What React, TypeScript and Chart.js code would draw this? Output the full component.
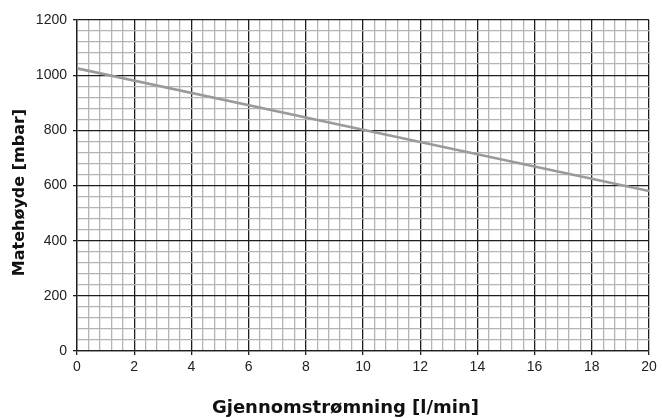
import React, { useEffect, useRef } from "react";
import { Chart, registerables } from "chart.js";
Chart.register(...registerables);

const flowValues = [0, 10, 20];
const pressureValues = [1025, 802, 580];
const xMajorLabels = [0, 2, 4, 6, 8, 10, 12, 14, 16, 18, 20];
const yMajorLabels = [0, 200, 400, 600, 800, 1000, 1200];
const xMinorStep = 0.4;
const yMinorStep = 40;
const xTitle = "Gjennomstrømning [l/min]";
const yTitle = "Matehøyde [mbar]";

const isMajor = (v: number, list: number[]) => list.some((m) => Math.abs(m - v) < 1e-6);

const titleFont = "'DejaVu Sans', sans-serif";

const axisTitles = {
  id: "axisTitles",
  afterDraw(chart: any) {
    const c = chart.ctx;
    c.save();
    c.fillStyle = "#111";
    c.textAlign = "center";
    c.textBaseline = "alphabetic";
    c.font = `bold 18px ${titleFont}`;
    c.fillText(xTitle, 345.5, 413);
    c.translate(24, 192.5);
    c.rotate(-Math.PI / 2);
    c.font = `bold 16px ${titleFont}`;
    c.fillText(yTitle, 0, 0);
    c.restore();
  },
};

export default function App() {
  const ref = useRef<HTMLCanvasElement>(null);
  useEffect(() => {
    document.body.style.margin = "0";
    const ctx = ref.current!.getContext("2d")!;
    const font = "'Liberation Sans', Arial, sans-serif";
    const chart = new Chart(ctx, {
      type: "scatter",
      data: {
        datasets: [
          {
            data: flowValues.map((x, i) => ({ x, y: pressureValues[i] })),
            showLine: true,
            borderColor: "#9a9a9a",
            borderWidth: 2.7,
            pointRadius: 0,
            fill: false,
          },
        ],
      },
      plugins: [axisTitles],
      options: {
        animation: false,
        responsive: false,
        layout: { padding: { left: 0, right: 13, top: 20, bottom: 0 } },
        plugins: { legend: { display: false }, tooltip: { enabled: false } },
        scales: {
          x: {
            type: "linear",
            min: 0,
            max: 20,
            afterBuildTicks: (s: any) => {
              const n = Math.round(20 / xMinorStep);
              s.ticks = Array.from({ length: n + 1 }, (_, i) => ({ value: Math.round(i * xMinorStep * 10) / 10 }));
            },
            afterFit: (s: any) => {
              s.height = 67;
            },
            ticks: {
              autoSkip: false,
              maxRotation: 0,
              padding: 4,
              color: "#222",
              font: { family: font, size: 14 },
              callback: (v: any) => (isMajor(Number(v), xMajorLabels) ? String(v) : ""),
            },
            grid: {
              color: (c: any) => (isMajor(c.tick.value, xMajorLabels) ? "#1e1e1e" : "#b4b4b4"),
              tickColor: (c: any) => (isMajor(c.tick.value, xMajorLabels) ? "#1e1e1e" : "rgba(0,0,0,0)"),
              lineWidth: 1.3,
              tickLength: 4,
            },
            border: { color: "#1e1e1e", width: 1.3 },
          },
          y: {
            type: "linear",
            min: 0,
            max: 1200,
            afterBuildTicks: (s: any) => {
              const n = Math.round(1200 / yMinorStep);
              s.ticks = Array.from({ length: n + 1 }, (_, i) => ({ value: i * yMinorStep }));
            },
            afterFit: (s: any) => {
              s.width = 77;
            },
            ticks: {
              autoSkip: false,
              padding: 6,
              color: "#222",
              font: { family: font, size: 14 },
              callback: (v: any) => (isMajor(Number(v), yMajorLabels) ? String(v) : ""),
            },
            grid: {
              color: (c: any) => (isMajor(c.tick.value, yMajorLabels) ? "#1e1e1e" : "#b4b4b4"),
              tickColor: (c: any) => (isMajor(c.tick.value, yMajorLabels) ? "#1e1e1e" : "rgba(0,0,0,0)"),
              lineWidth: 1.3,
              tickLength: 4,
            },
            border: { color: "#1e1e1e", width: 1.3 },
          },
        },
      },
    });
    return () => chart.destroy();
  }, []);
  return (
    <div style={{ position: "fixed", left: 0, top: 0, width: 662, height: 418, background: "#fff" }}>
      <canvas ref={ref} width={662} height={418} style={{ width: 662, height: 418 }} />
    </div>
  );
}
